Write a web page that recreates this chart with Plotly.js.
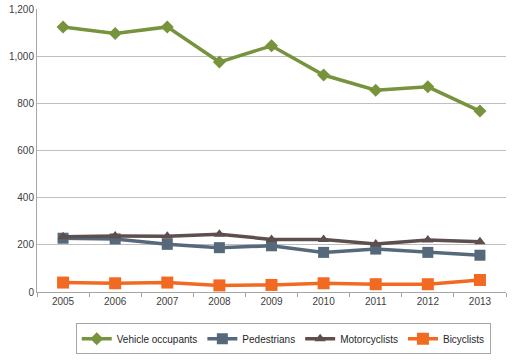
<!DOCTYPE html>
<html><head><meta charset="utf-8">
<script src="https://cdn.plot.ly/plotly-3.0.1.min.js"></script>
<style>html,body{margin:0;padding:0;background:#fff}#chart{width:518px;height:360px}</style>
</head><body><div id="chart"></div>
<script>
var years = ['2005','2006','2007','2008','2009','2010','2011','2012','2013'];
var vehicleOccupants = [1124, 1096, 1124, 975, 1044, 920, 856, 870, 767];
var pedestrians = [228, 225, 202, 188, 196, 168, 182, 168, 156];
var motorcyclists = [234, 237, 236, 245, 223, 223, 204, 220, 213];
var bicyclists = [40, 37, 40, 28, 30, 37, 33, 33, 51];
var yTicks = [0, 200, 400, 600, 800, 1000, 1200];
var yTickText = ['0', '200', '400', '600', '800', '1,000', '1,200'];

function tr(name, y, color, symbol, size) {
  return {x: years, y: y, name: name, type: 'scatter', mode: 'lines+markers',
    line: {color: color, width: 3.5}, marker: {color: color, symbol: symbol, size: size}};
}
var data = [
  tr('Vehicle occupants', vehicleOccupants, '#77933C', 'diamond', 10),
  tr('Pedestrians', pedestrians, '#56697A', 'square', 11),
  tr('Motorcyclists', motorcyclists, '#5C4F4D', 'triangle-up', 10),
  tr('Bicyclists', bicyclists, '#F26A21', 'square', 12)
];
var layout = {
  width: 518, height: 360,
  margin: {l: 37, r: 12, t: 9, b: 68, autoexpand: false},
  paper_bgcolor: '#fff', plot_bgcolor: '#fff',
  font: {family: 'Liberation Sans, Arial, sans-serif', size: 10, color: '#404040'},
  showlegend: true,
  legend: {orientation: 'h', x: 0.525, xanchor: 'center', y: -0.11, yanchor: 'top',
    bordercolor: '#A6A6A6', borderwidth: 1, font: {size: 10, color: '#262626'},
    itemwidth: 30, tracegroupgap: 0},
  xaxis: {type: 'category', tickson: 'boundaries', ticks: 'outside', ticklen: 4,
    tickcolor: '#A6A6A6', showline: true, linecolor: '#A6A6A6', linewidth: 1,
    showgrid: false, tickfont: {size: 10, color: '#404040'}, range: [-0.5, 8.5]},
  yaxis: {range: [0, 1200], tickvals: yTicks, ticktext: yTickText, showline: true,
    linecolor: '#A6A6A6', showgrid: true, gridcolor: '#BFBFBF', gridwidth: 1,
    zeroline: false, ticks: '', tickfont: {size: 10, color: '#404040'}}
};
Plotly.newPlot('chart', data, layout, {displayModeBar: false, staticPlot: true});
</script></body></html>
